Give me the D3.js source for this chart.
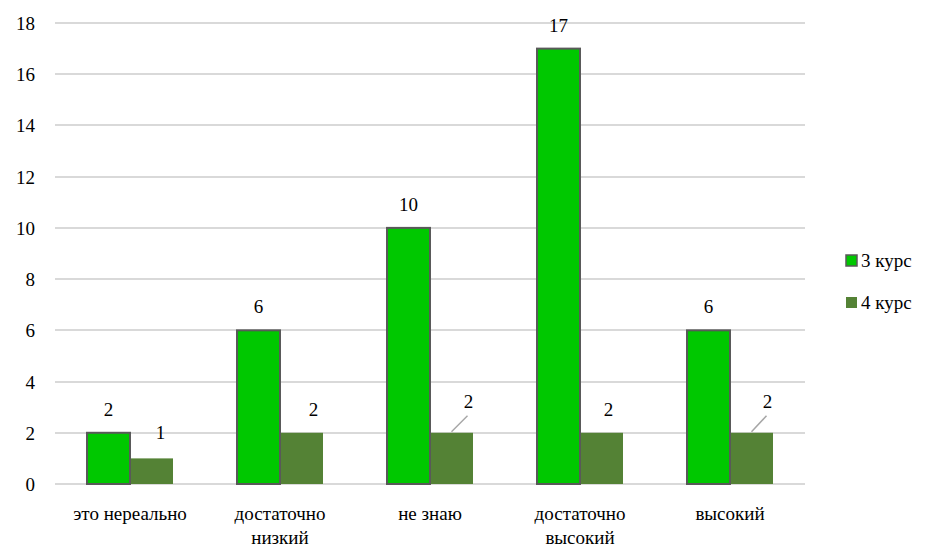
<!DOCTYPE html>
<html>
<head>
<meta charset="utf-8">
<style>
body { margin: 0; background: #fff; }
#chart text { font-family: 'Liberation Serif' !important; font-size: 19px; fill: #000; }
.grid line { stroke: #d9d9d9; stroke-width: 2; }
</style>
<script src="https://cdn.jsdelivr.net/npm/d3@7"></script>
</head>
<body>
<svg id="chart" width="928" height="548"></svg>
<script>
var categories = [["это нереально"], ["достаточно", "низкий"], ["не знаю"], ["достаточно", "высокий"], ["высокий"]];
var seriesNames = ["3 курс", "4 курс"];
var course3 = [2, 6, 10, 17, 6];
var course4 = [1, 2, 2, 2, 2];
var yTicks = [0, 2, 4, 6, 8, 10, 12, 14, 16, 18];

var colors = ["#00c800", "#548235"];
// label nudges for the 4 курс labels (dx, dy, leader line)
var nudge4 = [[9, -2, false], [12, 0, false], [17, -8, true], [7, 0, false], [16, -8, true]];

var plot = {left: 55, right: 805, top: 23, bottom: 484};

var svg = d3.select("#chart");

function label(sel) {
  return sel.attr("font-family", "Liberation Serif")
    .style("font-family", "Liberation Serif", "important")
    .attr("font-size", 19);
}

var y = d3.scaleLinear().domain([0, 18]).range([plot.bottom, plot.top]);
var x0 = d3.scaleBand().domain(d3.range(categories.length)).range([plot.left, plot.right]);
var x1 = d3.scaleBand().domain(seriesNames).range([32, 118]);

// grid
svg.append("g").attr("class", "grid")
  .selectAll("line").data(yTicks).enter().append("line")
    .attr("x1", plot.left).attr("x2", plot.right)
    .attr("y1", function(d) { return Math.round(y(d)); })
    .attr("y2", function(d) { return Math.round(y(d)); });

// y labels
svg.append("g").selectAll("text").data(yTicks).enter().append("text")
    .call(label)
    .attr("x", 35)
    .attr("y", function(d) { return y(d) + 7; })
    .attr("text-anchor", "end")
    .text(function(d) { return d; });

var data = categories.map(function(c, i) {
  return {i: i, values: [course3[i], course4[i]]};
});

var groups = svg.selectAll("g.cat").data(data).enter().append("g")
    .attr("class", "cat")
    .attr("transform", function(d) { return "translate(" + x0(d.i) + ",0)"; });

// 4 курс bars first so the outline of 3 курс stays on top
groups.append("rect")
    .attr("x", x1(seriesNames[1]))
    .attr("y", function(d) { return y(d.values[1]); })
    .attr("width", x1.bandwidth())
    .attr("height", function(d) { return y(0) - y(d.values[1]); })
    .attr("fill", colors[1]);

groups.append("rect")
    .attr("x", x1(seriesNames[0]))
    .attr("y", function(d) { return y(d.values[0]); })
    .attr("width", x1.bandwidth())
    .attr("height", function(d) { return y(0) - y(d.values[0]); })
    .attr("fill", colors[0])
    .attr("stroke", "#595959")
    .attr("stroke-width", 2);

// value labels 3 курс
groups.append("text")
    .call(label)
    .attr("x", x1(seriesNames[0]) + x1.bandwidth() / 2)
    .attr("y", function(d) { return y(d.values[0]) - 17; })
    .attr("text-anchor", "middle")
    .text(function(d) { return d.values[0]; });

// value labels 4 курс
groups.append("text")
    .call(label)
    .attr("x", function(d) { return x1(seriesNames[1]) + x1.bandwidth() / 2 + nudge4[d.i][0]; })
    .attr("y", function(d) { return y(d.values[1]) - 17 + nudge4[d.i][1]; })
    .attr("text-anchor", "middle")
    .text(function(d) { return d.values[1]; });

groups.filter(function(d) { return nudge4[d.i][2]; }).append("line")
    .attr("x1", x1(seriesNames[1]) + x1.bandwidth() / 2)
    .attr("y1", function(d) { return y(d.values[1]) - 1; })
    .attr("x2", function(d) { return x1(seriesNames[1]) + x1.bandwidth() / 2 + nudge4[d.i][0] - 1; })
    .attr("y2", function(d) { return y(d.values[1]) - 17; })
    .attr("stroke", "#a6a6a6")
    .attr("stroke-width", 1.5);

// category labels
groups.append("text")
    .call(label)
    .attr("text-anchor", "middle")
    .selectAll("tspan").data(function(d) { return categories[d.i]; }).enter().append("tspan")
    .attr("x", x0.bandwidth() / 2)
    .attr("y", function(d, j) { return 520 + j * 24; })
    .text(function(d) { return d; });

// legend
var legend = svg.append("g").selectAll("g").data(seriesNames).enter().append("g")
    .attr("transform", function(d, i) { return "translate(846," + (255 + i * 42) + ")"; });
legend.append("rect")
    .attr("width", 11).attr("height", 11)
    .attr("fill", function(d, i) { return colors[i]; })
    .attr("stroke", function(d, i) { return i === 0 ? "#595959" : "none"; })
    .attr("stroke-width", 1.5);
legend.append("text")
    .call(label)
    .attr("x", 15).attr("y", 12)
    .text(function(d) { return d; });
</script>
</body>
</html>
